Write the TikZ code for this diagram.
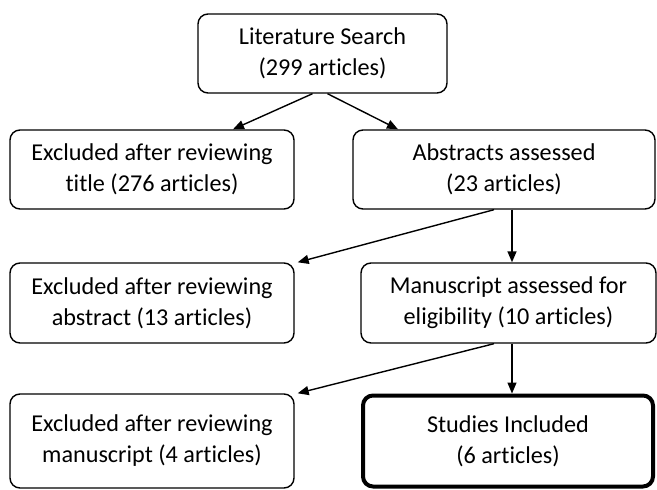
\documentclass[tikz,border=0pt]{standalone}
\usepackage{fontspec}
\setmainfont{Carlito}[Ligatures=NoCommon]
\usepackage{tikz}
\usetikzlibrary{arrows.meta, positioning, calc}

\begin{document}
\begin{tikzpicture}[
        x=1pt, y=-1pt,
        stage/.style={draw, rectangle, rounded corners=10pt, line width=1.4pt, minimum height=79pt, align=center, inner sep=0pt, font=\fontsize{24.2}{31}\selectfont},
        final/.style={stage, line width=4pt},
        flow/.style={-{Triangle[length=11pt, width=9pt]}, line width=1.4pt}
    ]
        \useasboundingbox (0,0) rectangle (657,490);

        % Search
        \node[stage, minimum width=249pt] (search) at (322.5,53.5) {Literature Search\\(299 articles)};

        % Title screening
        \node[stage, minimum width=284pt] (extitle) at (152,169.5) {Excluded after reviewing\\title (276 articles)};
        \node[stage, minimum width=302pt] (abstracts) at (504,169.5) {Abstracts assessed\\(23 articles)};

        % Abstract screening
        \node[stage, minimum width=284pt, minimum height=80pt] (exabstract) at (152,303) {Excluded after reviewing\\abstract (13 articles)};
        \node[stage, minimum width=295pt, minimum height=80pt] (manuscript) at (508.5,303) {Manuscript assessed for\\eligibility (10 articles)};

        % Full text
        \node[stage, minimum width=284pt, minimum height=94pt] (exmanuscript) at (152,441) {Excluded after reviewing\\manuscript (4 articles)};
        \node[final, minimum width=290pt, minimum height=91pt] (included) at (508,441) {Studies Included\\(6 articles)};

        \draw[flow] ([xshift=-10pt]search.south) -- ([xshift=81pt]extitle.north);
        \draw[flow] ([xshift=5pt]search.south) -- ([xshift=-106pt]abstracts.north);
        \draw[flow] ([xshift=-10pt]abstracts.south) -- ([xshift=3pt]exabstract.north east);
        \draw[flow] ([xshift=8pt]abstracts.south) -- ([xshift=8pt]abstracts.south |- manuscript.north);
        \draw[flow] ([xshift=-14.5pt]manuscript.south) -- ([xshift=3pt]exmanuscript.north east);
        \draw[flow] ([xshift=3.5pt]manuscript.south) -- ([xshift=3.5pt]manuscript.south |- included.north);

    \end{tikzpicture}
\end{document}
